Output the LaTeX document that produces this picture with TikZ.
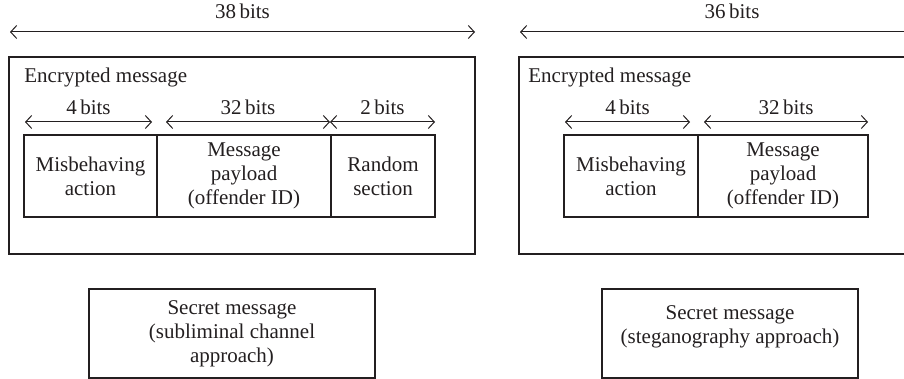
\documentclass[tikz,border=0pt]{standalone}
\usepackage{fontspec}
\setmainfont{Liberation Serif}
\usetikzlibrary{arrows.meta}
\definecolor{ink}{HTML}{231F20}
\newcommand{\figfont}{\fontsize{10.5}{12}\selectfont}
\tikzset{
  outerbox/.style={draw=ink, line width=0.6pt, minimum height=98.5pt, inner sep=0pt},
  cell/.style={draw=ink, line width=0.6pt, minimum height=41pt, inner sep=0pt, align=center, text=ink, font=\figfont},
  secret/.style={draw=ink, line width=0.6pt, minimum height=44.5pt, inner sep=0pt, align=center, text=ink, font=\figfont},
  dimarrow/.style={draw=ink, line width=0.5pt, {Straight Barb[length=3pt,width=6.5pt]}-{Straight Barb[length=3pt,width=6.5pt]}},
  lab/.style={text=ink, font=\figfont},
}

\begin{document}
\begin{tikzpicture}[x=0.5pt, y=-0.5pt]
  \useasboundingbox (0,0) rectangle (904,379);

  % subliminal channel: 38 bits
  \coordinate (sa) at (10,32);
  \coordinate (sb) at (475,32);
  \draw[dimarrow] (sa) -- node[lab, above=3pt] (slen) {38\,bits} (sb);

  \node[outerbox, minimum width=233pt] (senc) at (242,155.5) {};
  \node[lab, anchor=west, inner sep=0pt] (stitle) at (24,77) {Encrypted message};

  \node[cell, minimum width=66.5pt] (smis) at (90.5,176) {Misbehaving\\action};
  \node[cell, minimum width=87pt] (spay) at (244,176) {Message\\payload\\(offender ID)};
  \node[cell, minimum width=52pt] (srnd) at (383,176) {Random\\section};

  \coordinate (s1) at (25,122);
  \coordinate (s2) at (152,122);
  \coordinate (s3) at (166,122);
  \coordinate (s4) at (330,122);
  \coordinate (s5) at (435,122);
  \draw[dimarrow] (s1) -- node[lab, above] {4\,bits} (s2);
  \draw[dimarrow] (s3) -- node[lab, above] {32\,bits} (s4);
  \draw[dimarrow] (s4) -- node[lab, above] {2\,bits} (s5);

  \node[secret, minimum width=143pt] (ssec) at (232,333.5) {Secret message\\(subliminal channel\\approach)};

  % steganography: 36 bits (cut at the right edge)
  \coordinate (ga) at (520,32);
  \coordinate (gb) at (944,32);
  \draw[dimarrow] (ga) -- node[lab, above=3pt] (glen) {36\,bits} (gb);

  \node[outerbox, minimum width=220.5pt] (genc) at (739.5,155.5) {};
  \node[lab, anchor=west, inner sep=0pt] (gtitle) at (528,77) {Encrypted message};

  \node[cell, minimum width=67pt] (gmis) at (631,176) {Misbehaving\\action};
  \node[cell, minimum width=85pt] (gpay) at (783,176) {Message\\payload\\(offender ID)};

  \coordinate (g1) at (565,122);
  \coordinate (g2) at (690,122);
  \coordinate (g3) at (704,122);
  \coordinate (g4) at (868,122);
  \draw[dimarrow] (g1) -- node[lab, above] {4\,bits} (g2);
  \draw[dimarrow] (g3) -- node[lab, above] {32\,bits} (g4);

  \node[secret, minimum width=128pt] (gsec) at (730,333.5) {};
  \node[lab, align=center] (gtext) at ([yshift=3.5pt]gsec.center) {Secret message\\(steganography approach)};
\end{tikzpicture}
\end{document}
